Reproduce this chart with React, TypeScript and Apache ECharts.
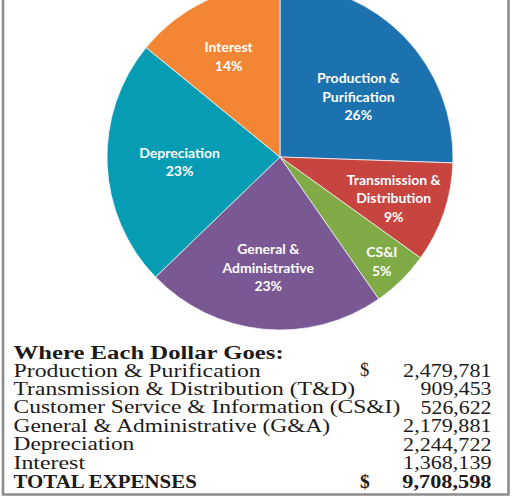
import React, { useEffect, useRef } from 'react';
import * as echarts from 'echarts';

// ---- data ----
const CATEGORIES = [
  'Production & Purification',
  'Transmission & Distribution (T&D)',
  'Customer Service & Information (CS&I)',
  'General & Administrative (G&A)',
  'Depreciation',
  'Interest',
];
const PIE_LABELS = [
  'Production &\nPurification',
  'Transmission &\nDistribution',
  'CS&I',
  'General &\nAdministrative',
  'Depreciation',
  'Interest',
];
const VALUES = [2479781, 909453, 526622, 2179881, 2244722, 1368139];
const TITLE = 'Where Each Dollar Goes:';
const TOTAL_LABEL = 'TOTAL EXPENSES';
const CURRENCY = '$';

// ---- styles / layout ----
const COLORS = ['#1B72AE', '#C8453F', '#7FAA46', '#7A5893', '#069CB4', '#F28634'];
const LABEL_NUDGE = [
  [14, 1.5],
  [29, 12],
  [39, 40],
  [-3, 21],
  [-11, 1],
  [-13, -20],
];
const SERIF = '"Liberation Serif", "Times New Roman", serif';
const INK = '#1c1a1a';

let measureCtx: CanvasRenderingContext2D | null = null;
function measure(text: string, font: string): number {
  if (!measureCtx) measureCtx = document.createElement('canvas').getContext('2d');
  if (!measureCtx) return 0;
  measureCtx.font = font;
  return measureCtx.measureText(text).width;
}

function tableText(
  text: string,
  x: number,
  y: number,
  bold: boolean,
  size: number,
  align: 'left' | 'right',
  ls: number
) {
  const weight = bold ? 'bold' : 'normal';
  const w = measure(text, `${weight} ${size}px ${SERIF}`);
  const scale = w > 0 ? (w + Math.max(text.length - 1, 0) * ls) / w : 1;
  return {
    type: 'text',
    x,
    y,
    scaleX: scale,
    silent: true,
    style: {
      text,
      fontSize: size,
      fontFamily: SERIF,
      fontWeight: weight,
      fill: INK,
      align,
      textAlign: align,
      verticalAlign: 'middle',
      textVerticalAlign: 'middle',
    },
  };
}

export default function App() {
  const ref = useRef<HTMLDivElement>(null);

  useEffect(() => {
    document.body.style.margin = '0';
    if (!ref.current) return;
    const chart = echarts.init(ref.current, undefined, { renderer: 'svg' });

    const total = VALUES.reduce((a, b) => a + b, 0);
    const fmt = (v: number) => v.toLocaleString('en-US');

    const graphics: any[] = [];
    const titleY = 352;
    const rowStep = 18.43;
    const leftX = 13.5;
    const numX = 491.5;
    const dollarX = 360;
    const regSize = 18.5;
    const boldSize = 19.5;

    graphics.push(tableText(TITLE, leftX, titleY, true, boldSize, 'left', 2.6));
    CATEGORIES.forEach((c, i) => {
      const y = titleY + rowStep * (i + 1);
      graphics.push(tableText(c, leftX, y, false, regSize, 'left', 2.3));
      graphics.push(tableText(fmt(VALUES[i]), numX, y, false, regSize, 'right', 1.8));
      if (i === 0) graphics.push(tableText(CURRENCY, dollarX, y, false, regSize, 'left', 0));
    });
    const totalY = titleY + rowStep * (CATEGORIES.length + 1);
    graphics.push(tableText(TOTAL_LABEL, leftX, totalY, true, boldSize, 'left', 0.95));
    graphics.push(tableText(CURRENCY, dollarX, totalY, true, boldSize, 'left', 0));
    graphics.push(tableText(fmt(total), numX, totalY, true, boldSize, 'right', 1.4));

    graphics.push({
      type: 'polyline',
      silent: true,
      shape: {
        points: [
          [3, -5],
          [3, 494.5],
          [508.5, 494.5],
          [508.5, -5],
        ],
      },
      style: { stroke: '#8c8c8c', lineWidth: 2.6, fill: 'none' },
    });

    chart.setOption({
      animation: false,
      color: COLORS,
      graphic: { elements: graphics },
      series: [
        {
          type: 'pie',
          center: [280, 157],
          radius: 173,
          startAngle: 90,
          clockwise: true,
          percentPrecision: 0,
          avoidLabelOverlap: false,
          silent: true,
          itemStyle: { borderColor: '#ffffff', borderWidth: 0.7 },
          emphasis: { disabled: true },
          label: {
            show: true,
            position: 'inside',
            color: '#ffffff',
            fontFamily: 'Lato',
            fontWeight: 'bold',
            fontSize: 14,
            lineHeight: 18.5,
            align: 'center',
            formatter: (p: any) => `${PIE_LABELS[p.dataIndex]}\n${p.percent}%`,
          },
          labelLine: { show: false },
          labelLayout: (p: any) => {
            const n = LABEL_NUDGE[p.dataIndex] || [0, 0];
            return { dx: n[0], dy: n[1] };
          },
          data: CATEGORIES.map((name, i) => ({ name, value: VALUES[i] })),
        },
      ],
    });

    return () => chart.dispose();
  }, []);

  return <div ref={ref} style={{ width: 513, height: 499 }} />;
}
